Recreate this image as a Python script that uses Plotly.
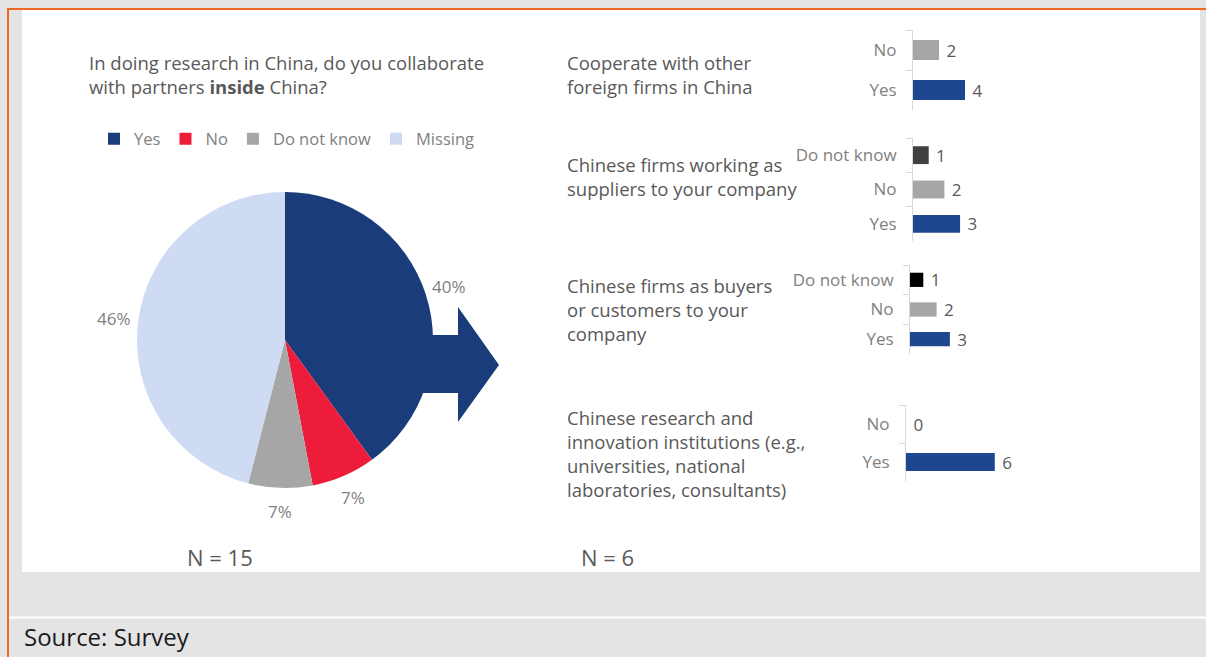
import plotly.graph_objects as go
import math

W, H = 1206, 657

# ---------------- data ----------------
pie_labels = ["Yes", "No", "Do not know", "Missing"]
pie_values = [40, 7, 7, 46]
pie_colors = ["#1B3C7A", "#ED1C3A", "#A6A6A6", "#CFDBF2"]

pie_title_1 = "In doing research in China, do you collaborate"
pie_title_2 = "with partners <b>inside</b> China?"
pie_n = "N = 15"
bars_n = "N = 6"

g1_title = ["Cooperate with other", "foreign firms in China"]
g1_cats = ["No", "Yes"]
g1_vals = [2, 4]

g2_title = ["Chinese firms working as", "suppliers to your company"]
g2_cats = ["Do not know", "No", "Yes"]
g2_vals = [1, 2, 3]

g3_title = ["Chinese firms as buyers", "or customers to your", "company"]
g3_cats = ["Do not know", "No", "Yes"]
g3_vals = [1, 2, 3]

g4_title = ["Chinese research and", "innovation institutions (e.g.,",
            "universities, national", "laboratories, consultants)"]
g4_cats = ["No", "Yes"]
g4_vals = [0, 6]

source_text = "Source: Survey"

# ---------------- helpers ----------------
def X(px):
    return px / W

def Y(py):
    return 1 - py / H

TXT = "#595959"
LBL = "#7F7F7F"
FONT = "Open Sans"

fig = go.Figure()

# pie: center (285,340), radius 148
cx, cy, r = 285, 340, 148
fig.add_trace(go.Pie(
    labels=pie_labels, values=pie_values, sort=False, direction="clockwise",
    rotation=0, marker=dict(colors=pie_colors, line=dict(width=0)),
    textinfo="none", hoverinfo="label+percent",
    domain=dict(x=[X(cx - r), X(cx + r)], y=[Y(cy + r), Y(cy - r)]),
    showlegend=True,
))

annotations = []
# pie percentage labels placed around the pie from the slice mid-angles
total = sum(pie_values)
acc = 0
lab_r = 172
for v in pie_values:
    mid = (acc + v / 2) / total * 2 * math.pi
    acc += v
    lx = cx + lab_r * math.sin(mid)
    ly = cy - lab_r * math.cos(mid)
    annotations.append(dict(x=X(lx), y=Y(ly), xref="paper", yref="paper",
                            xanchor="center", yanchor="middle",
                            text=f"{v}%", showarrow=False,
                            font=dict(family=FONT, size=17, color=LBL)))

# bar subplots
bar_blue = "#1F478F"
groups = [
    dict(title=g1_title, cats=g1_cats, vals=g1_vals,
         colors={"Yes": bar_blue, "No": "#A6A6A6"},
         ax=913, y0=30, y1=110, ppu=13.0, bw=0.5, ty=62),
    dict(title=g2_title, cats=g2_cats, vals=g2_vals,
         colors={"Yes": bar_blue, "No": "#A6A6A6", "Do not know": "#404040"},
         ax=913, y0=138, y1=241, ppu=15.7, bw=0.52, ty=164),
    dict(title=g3_title, cats=g3_cats, vals=g3_vals,
         colors={"Yes": bar_blue, "No": "#A6A6A6", "Do not know": "#000000"},
         ax=910, y0=265, y1=354, ppu=13.3, bw=0.48, ty=285),
    dict(title=g4_title, cats=g4_cats, vals=g4_vals,
         colors={"Yes": bar_blue, "No": "#A6A6A6"},
         ax=906, y0=405, y1=481, ppu=14.8, bw=0.47, ty=417),
]

dom_w = 160
layout_axes = {}
for i, g in enumerate(groups, start=1):
    xa = "x" if i == 1 else f"x{i}"
    ya = "y" if i == 1 else f"y{i}"
    fig.add_trace(go.Bar(
        y=g["cats"], x=g["vals"], orientation="h",
        marker=dict(color=[g["colors"][c] for c in g["cats"]], line=dict(width=0)),
        width=g["bw"], texttemplate="\u00a0%{x}", textposition="outside",
        constraintext="none",
        textfont=dict(family=FONT, size=17, color=TXT), cliponaxis=False,
        xaxis=xa, yaxis=ya, showlegend=False, hoverinfo="x+y",
    ))
    xk = "xaxis" if i == 1 else f"xaxis{i}"
    yk = "yaxis" if i == 1 else f"yaxis{i}"
    layout_axes[xk] = dict(domain=[X(g["ax"]), X(g["ax"] + dom_w)],
                           range=[0, dom_w / g["ppu"]], visible=False,
                           anchor=ya, fixedrange=True)
    layout_axes[yk] = dict(domain=[Y(g["y1"]), Y(g["y0"])], anchor=xa,
                           autorange="reversed", type="category",
                           showline=True, linecolor="#D9D9D9", linewidth=1,
                           ticks="outside", tickson="boundaries", ticklen=6,
                           tickcolor="#D9D9D9", tickwidth=1, showgrid=False,
                           ticklabelstandoff=12,
                           tickfont=dict(family=FONT, size=17, color=LBL),
                           fixedrange=True)
    for j, line in enumerate(g["title"]):
        annotations.append(dict(x=X(565), y=Y(g["ty"] + 24 * j), xref="paper",
                                yref="paper", xanchor="left", yanchor="middle",
                                text=line, showarrow=False,
                                font=dict(family=FONT, size=18.5, color=TXT)))

# pie title lines
for j, line in enumerate([pie_title_1, pie_title_2]):
    annotations.append(dict(x=X(87), y=Y(62 + 24 * j), xref="paper", yref="paper",
                            xanchor="left", yanchor="middle", text=line,
                            showarrow=False,
                            font=dict(family=FONT, size=18.5, color=TXT)))

annotations.append(dict(x=X(220), y=Y(557), xref="paper", yref="paper",
                        xanchor="center", yanchor="middle",
                        text=pie_n, showarrow=False,
                        font=dict(family=FONT, size=22, color=TXT)))
annotations.append(dict(x=X(607), y=Y(557), xref="paper", yref="paper",
                        xanchor="center", yanchor="middle",
                        text=bars_n, showarrow=False,
                        font=dict(family=FONT, size=22, color=TXT)))
annotations.append(dict(x=X(22), y=Y(636), xref="paper", yref="paper",
                        xanchor="left", yanchor="middle",
                        text=source_text, showarrow=False,
                        font=dict(family=FONT, size=24, color="#1A1A1A")))

# arrow path
def P(px, py):
    return f"{X(px):.5f},{Y(py):.5f}"

arrow = ("M " + P(380, 335) + " L " + P(458, 335) + " L " + P(458, 307) +
         " L " + P(499, 365) + " L " + P(458, 422) + " L " + P(458, 393) +
         " L " + P(380, 393) + " Z")

shapes = [
    # white panel
    dict(type="rect", xref="paper", yref="paper", x0=X(22), x1=X(1200),
         y0=Y(572), y1=Y(10), fillcolor="white", line=dict(width=0), layer="below"),
    # orange frame lines
    dict(type="line", xref="paper", yref="paper", x0=X(8), x1=X(1206),
         y0=Y(9), y1=Y(9), line=dict(color="#EE6A24", width=2), layer="below"),
    dict(type="line", xref="paper", yref="paper", x0=X(8), x1=X(8),
         y0=Y(8), y1=Y(657), line=dict(color="#EE6A24", width=2), layer="below"),
    dict(type="rect", xref="paper", yref="paper", x0=X(1200), x1=X(1206),
         y0=Y(10), y1=Y(8), fillcolor="#EE6A24", line=dict(width=0), layer="below"),
    # white separator
    dict(type="line", xref="paper", yref="paper", x0=X(9), x1=X(1206),
         y0=Y(617.5), y1=Y(617.5), line=dict(color="white", width=2), layer="below"),
    # arrow
    dict(type="path", xref="paper", yref="paper", path=arrow,
         fillcolor="#1B3C7A", line=dict(width=0), layer="below"),
]

fig.update_layout(
    width=W, height=H, margin=dict(l=0, r=0, t=0, b=0),
    paper_bgcolor="#E4E4E4", plot_bgcolor="rgba(0,0,0,0)",
    font=dict(family=FONT, color=TXT),
    showlegend=True,
    legend=dict(orientation="h", x=X(287), xanchor="center", y=Y(139),
                yanchor="middle", font=dict(family=FONT, size=16.5, color=LBL),
                bgcolor="rgba(0,0,0,0)", itemwidth=30, traceorder="normal"),
    annotations=annotations, shapes=shapes, bargap=0.5,
    **layout_axes,
)

fig.write_html(
    "out.html",
    config={"displayModeBar": False},
    post_script="document.body.style.margin='0';"
                "document.body.style.background='#E4E4E4';"
                "document.body.style.overflow='hidden';",
)
